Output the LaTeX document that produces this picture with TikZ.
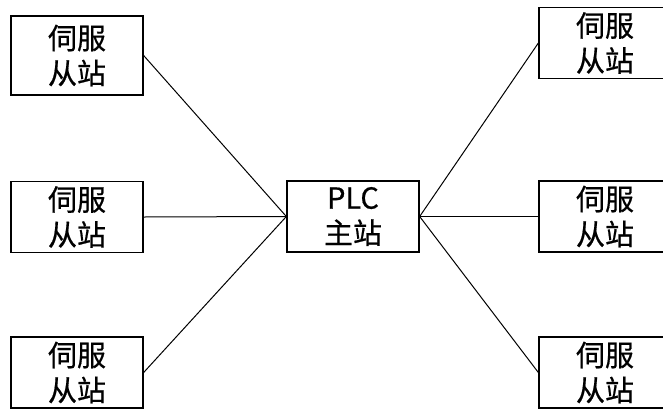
\documentclass[tikz,border=0pt]{standalone}
\usepackage{fontspec}
\newfontfamily\cjk[FakeBold=0.6]{Noto Sans CJK SC}
\usetikzlibrary{positioning}

\begin{document}
\begin{tikzpicture}[
  x=1pt, y=-1pt,
  box/.style={
    rectangle, draw=black, line width=1.3pt,
    minimum width=132pt, minimum height=71pt,
    inner sep=0pt, align=center,
    font=\cjk\fontsize{29}{35}\selectfont
  },
  link/.style={draw=black, line width=1pt}
]
\useasboundingbox (0,0) rectangle (663,410);
\clip (0,0) rectangle (663,410);

% Master
\node[box] (plc) at (353,216.5) {PLC\\主站};

% Left slaves
\node[box, minimum height=79pt] (sl1) at (77,55.5) {伺服\\从站};
\node[box] (sl2) at (77,217)   {伺服\\从站};
\node[box] (sl3) at (77,372.5) {伺服\\从站};

% Right slaves
\node[box] (sr1) at (605,43)    {伺服\\从站};
\node[box] (sr2) at (605,216.5) {伺服\\从站};
\node[box] (sr3) at (605,372.5) {伺服\\从站};

\draw[link] (sl1.east) -- (plc.west);
\draw[link] (sl2.east) -- (plc.west);
\draw[link] (sl3.east) -- (plc.west);
\draw[link] (plc.east) -- (sr1.west);
\draw[link] (plc.east) -- (sr2.west);
\draw[link] (plc.east) -- (sr3.west);
\end{tikzpicture}
\end{document}
